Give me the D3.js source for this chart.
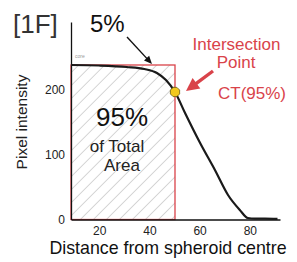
<!DOCTYPE html>
<html lang="en">
<head>
  <meta charset="UTF-8" />
  <title>CT(95%) profile</title>
  <style>
    html, body { margin: 0; padding: 0; background: #fff; }
    svg { display: block; font-family: Arial, "Liberation Sans", sans-serif; }
  </style>
</head>
<body>
  <div id="chart"></div>
  <script src="https://cdnjs.cloudflare.com/ajax/libs/d3/7.8.5/d3.min.js"></script>
  <script>
    // Profile
    const distance  = [8.8, 20, 31, 38, 43, 46.6, 50.2, 54.2, 60.2, 66.1, 71.3, 76, 79.2, 82, 86, 91];
    const intensity = [238.6, 237.8, 235.5, 232.4, 226.3, 215.4, 196.9, 164.5, 118.1, 76.4, 37.8, 14.7, 2.3, 1.5, 1.5, 1];
    const xTicks = [20, 40, 60, 80];
    const yTicks = [0, 100, 200];
    // Intersection point and 95% area box
    const ctPoint = [50.2, 196.9];
    const areaBox = [8.8, 50.2, 0, 238.6];

    const width = 297, height = 262;
    const red = "#d9434a";

    const svg = d3.select("#chart").append("svg")
      .attr("width", width)
      .attr("height", height);

    const x = d3.scaleLinear().domain([8.8, 92]).range([71, 280]);
    const y = d3.scaleLinear().domain([0, 305]).range([219.5, 22]);

    // Hatch pattern for the area
    const defs = svg.append("defs");
    defs.append("pattern")
      .attr("id", "hatch")
      .attr("patternUnits", "userSpaceOnUse")
      .attr("width", 9.2).attr("height", 9.2)
      .attr("patternTransform", "rotate(45)")
      .append("line")
      .attr("x1", 0).attr("y1", 0).attr("x2", 0).attr("y2", 9.2)
      .attr("stroke", "#9a9a9a").attr("stroke-width", 0.8);

    // 95% area box
    svg.append("rect")
      .attr("x", x(areaBox[0]))
      .attr("y", y(areaBox[3]))
      .attr("width", x(areaBox[1]) - x(areaBox[0]))
      .attr("height", y(areaBox[2]) - y(areaBox[3]))
      .attr("fill", "url(#hatch)")
      .attr("stroke", red)
      .attr("stroke-width", 1.3);

    // Axes
    const yAxis = svg.append("g")
      .attr("transform", `translate(${x(8.8)},0)`)
      .call(d3.axisLeft(y).tickValues(yTicks).tickSize(0).tickPadding(6));
    const xAxis = svg.append("g")
      .attr("transform", `translate(0,${y(0)})`)
      .call(d3.axisBottom(x).tickValues(xTicks).tickSize(0).tickPadding(7));
    [xAxis, yAxis].forEach(g => {
      g.select(".domain").attr("stroke", "#111").attr("stroke-width", 1.3);
      g.selectAll("text")
        .attr("font-family", "Arial, 'Liberation Sans', sans-serif")
        .attr("font-size", 12)
        .attr("fill", "#222");
    });

    // Intensity curve
    const pts = distance.map((d, i) => [d, intensity[i]]);
    svg.append("path")
      .datum(pts)
      .attr("fill", "none")
      .attr("stroke", "#1a1a1a")
      .attr("stroke-width", 2.2)
      .attr("d", d3.line().x(d => x(d[0])).y(d => y(d[1])).curve(d3.curveMonotoneX));

    // Intersection marker (octagon)
    const cx = x(ctPoint[0]), cy = y(ctPoint[1]), r = 5;
    const oct = d3.range(8).map(k => {
      const a = Math.PI / 8 + k * Math.PI / 4;
      return [cx + r * Math.cos(a), cy + r * Math.sin(a)];
    });
    svg.append("polygon")
      .attr("points", oct.map(p => p.join(",")).join(" "))
      .attr("fill", "#f2c81e")
      .attr("stroke", "#6b5a10")
      .attr("stroke-width", 0.8);

    // Texts
    const txt = (tx, ty, s, size, color, anchor) => svg.append("text")
      .attr("x", tx).attr("y", ty)
      .attr("font-size", size)
      .attr("fill", color)
      .attr("text-anchor", anchor || "start")
      .text(s);

    txt(13, 33, "[1F]", 26, "#333");
    txt(90, 32, "5%", 24, "#111");
    txt(75, 58, "core", 5, "#999");
    txt(236.5, 50, "Intersection", 17, red, "middle");
    txt(236, 68, "Point", 17, red, "middle");
    txt(252, 99, "CT(95%)", 17, red, "middle");
    txt(122, 126, "95%", 26, "#111", "middle");
    txt(117, 152, "of Total", 17, "#222", "middle");
    txt(122, 171, "Area", 17, "#222", "middle");
    txt(168, 254, "Distance from spheroid centre", 17.8, "#111", "middle");
    svg.append("text")
      .attr("transform", "translate(27,122) rotate(-90)")
      .attr("text-anchor", "middle")
      .attr("font-size", 15.5)
      .attr("fill", "#222")
      .text("Pixel intensity");

    // Arrows: shaft plus filled head, drawn last
    function arrow(x1, y1, x2, y2, color, sw, headLen, headHalf) {
      const dx = x2 - x1, dy = y2 - y1, len = Math.hypot(dx, dy);
      const ux = dx / len, uy = dy / len;
      const bx = x2 - ux * headLen, by = y2 - uy * headLen;
      const head = [
        [x2, y2],
        [bx - uy * headHalf, by + ux * headHalf],
        [bx + uy * headHalf, by - ux * headHalf]
      ];
      svg.append("path")
        .attr("d", `M${x1},${y1}L${bx + ux},${by + uy}`)
        .attr("fill", "none")
        .attr("stroke", color)
        .attr("stroke-width", sw);
      svg.append("path")
        .attr("d", "M" + head.map(p => p.join(",")).join("L") + "Z")
        .attr("fill", color)
        .attr("stroke", "none");
    }
    arrow(127, 37, 152, 64, "#111", 1.4, 8, 3.5);
    arrow(213, 71, 186, 91, red, 3.4, 13, 6.5);
  </script>
</body>
</html>
